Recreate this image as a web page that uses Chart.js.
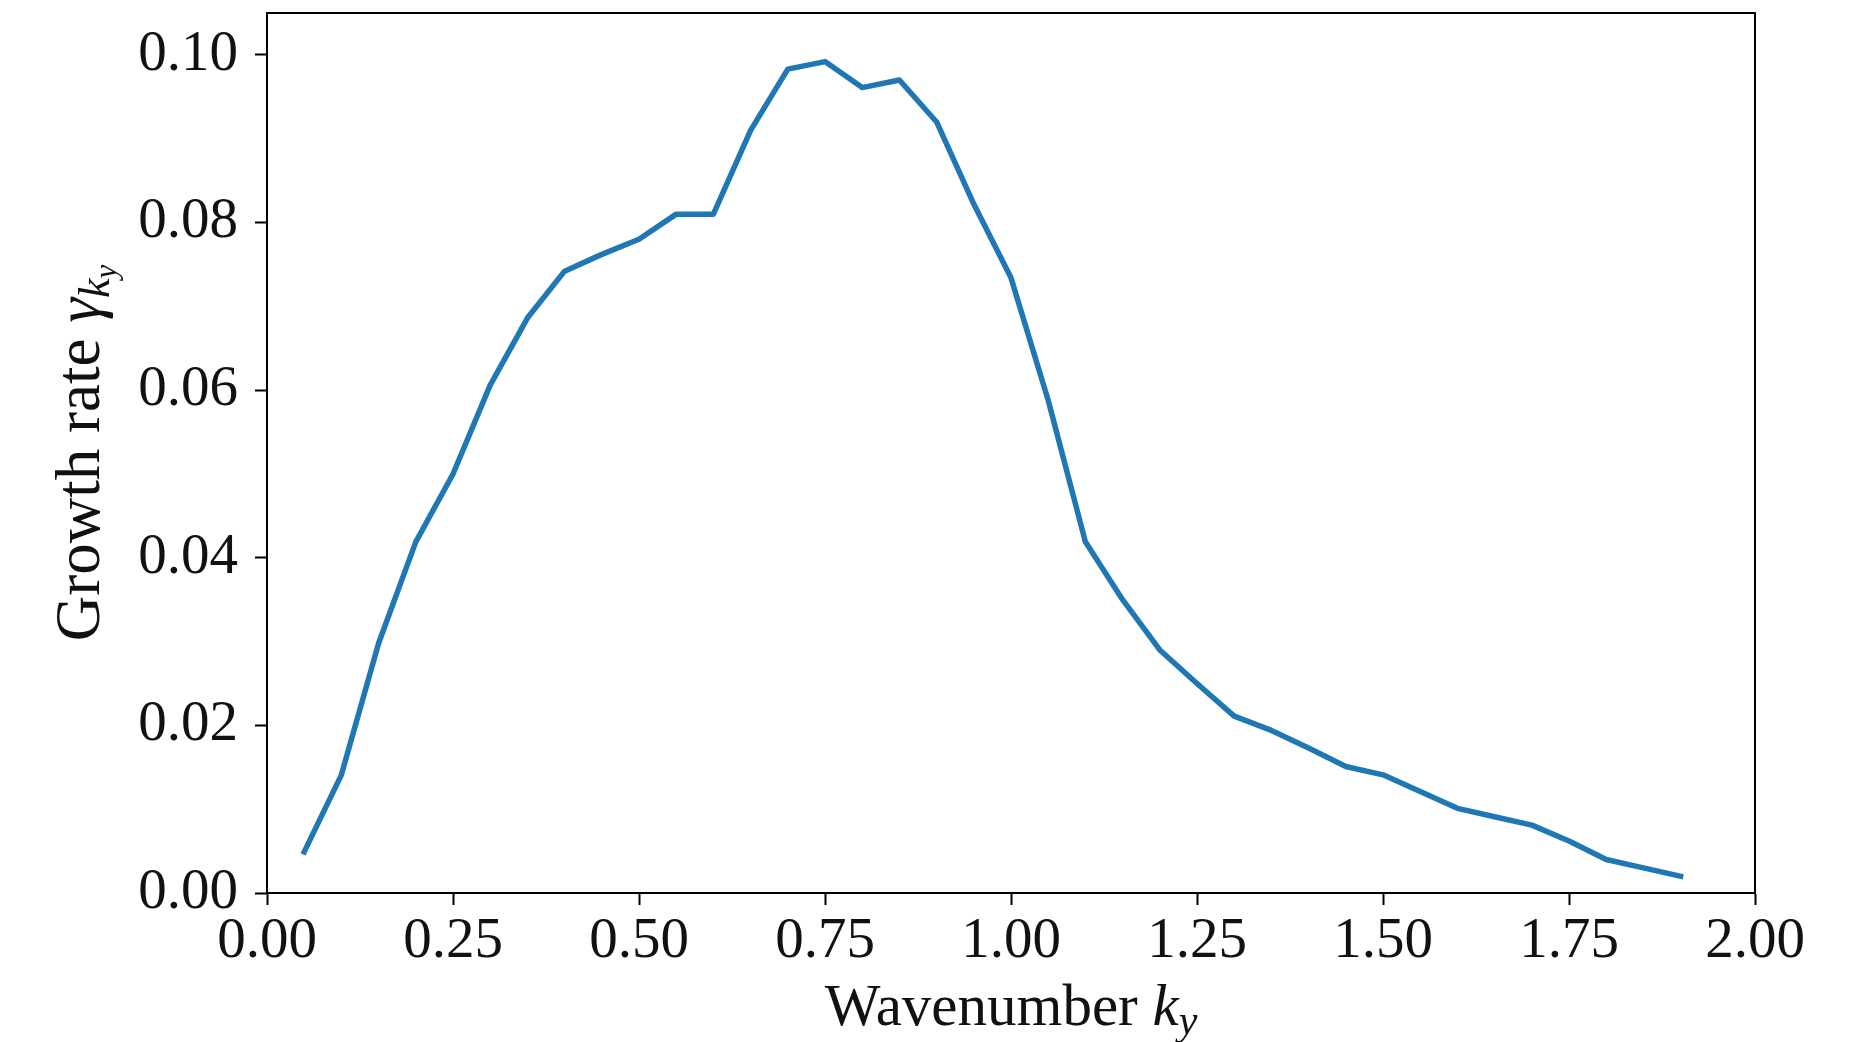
<!DOCTYPE html>
<html lang="en">
  <head>
    <title>Growth rate</title>
    <meta charset="utf-8" />
    <script src="https://cdn.jsdelivr.net/npm/chart.js"></script>
    <style>
      html, body { margin: 0; padding: 0; background: #fff; }
      #wrap { width: 1855px; height: 1042px; }
    </style>
  </head>
  <body>
    <div id="wrap"><canvas id="lienzo"></canvas></div>
    <script>
      // growth rate per wavenumber
      const kyValues = [
        0.05, 0.10, 0.15, 0.20, 0.25, 0.30, 0.35, 0.40, 0.45, 0.50,
        0.55, 0.60, 0.65, 0.70, 0.75, 0.80, 0.85, 0.90, 0.95, 1.00,
        1.05, 1.10, 1.15, 1.20, 1.25, 1.30, 1.35, 1.40, 1.45, 1.50,
        1.55, 1.60, 1.65, 1.70, 1.75, 1.80, 1.85, 1.90
      ];
      const growthRates = [
        0.0049, 0.0141, 0.0298, 0.0419, 0.0500, 0.0606, 0.0686, 0.0742, 0.0762, 0.0780,
        0.0810, 0.0810, 0.0910, 0.0983, 0.0992, 0.0961, 0.0970, 0.0920, 0.0822, 0.0734,
        0.0588, 0.0419, 0.0350, 0.0290, 0.0250, 0.0211, 0.0194, 0.0173, 0.0151, 0.0141,
        0.0121, 0.0101, 0.0091, 0.0081, 0.0062, 0.0040, 0.0030, 0.0020
      ];
      const xTicks = [0, 0.25, 0.5, 0.75, 1.0, 1.25, 1.5, 1.75, 2.0];
      const yTicks = [0, 0.02, 0.04, 0.06, 0.08, 0.10];

      const SERIF = "'Liberation Serif', 'Times New Roman', serif";

      // draws a run of [text, italic, size, dy] pieces starting at x
      function drawPieces(ctx, pieces, x, y) {
        pieces.forEach(([txt, italic, size, dy]) => {
          ctx.font = (italic ? "italic " : "") + size + "px " + SERIF;
          ctx.fillText(txt, x, y + dy);
          x += ctx.measureText(txt).width;
        });
      }
      function piecesWidth(ctx, pieces) {
        let w = 0;
        pieces.forEach(([txt, italic, size]) => {
          ctx.font = (italic ? "italic " : "") + size + "px " + SERIF;
          w += ctx.measureText(txt).width;
        });
        return w;
      }

      const marco = {
        id: "marco",
        afterDraw(chart) {
          const { ctx, chartArea: a } = chart;
          ctx.save();
          ctx.strokeStyle = "#000";
          ctx.lineWidth = 2;
          ctx.strokeRect(a.left, a.top, a.right - a.left, a.bottom - a.top);

          ctx.fillStyle = "#111";
          ctx.textBaseline = "alphabetic";

          const xTitle = [
            ["Wavenumber ", false, 59, 0],
            ["k", true, 59, 0],
            ["y", true, 42, 9],
          ];
          const wx = piecesWidth(ctx, xTitle);
          drawPieces(ctx, xTitle, (a.left + a.right) / 2 - wx / 2, 1025);

          const yTitle = [
            ["Growth rate ", false, 63, 0],
            ["\u03b3", true, 63, 0],
            ["k", true, 44, 10],
            ["y", true, 31, 17],
          ];
          const wy = piecesWidth(ctx, yTitle);
          ctx.translate(99, 453);
          ctx.rotate(-Math.PI / 2);
          drawPieces(ctx, yTitle, -wy / 2, 0);
          ctx.restore();
        },
      };

      const contexto = document.querySelector("#lienzo");
      new Chart(contexto, {
        type: "line",
        data: {
          datasets: [
            {
              data: kyValues.map((k, i) => ({ x: k, y: growthRates[i] })),
              borderColor: "#1f77b4",
              borderWidth: 5.5,
              borderJoinStyle: "round",
              borderCapStyle: "square",
              pointRadius: 0,
              tension: 0,
              fill: false,
            },
          ],
        },
        options: {
          responsive: true,
          maintainAspectRatio: false,
          animation: false,
          layout: { padding: { top: 13, right: 100, bottom: 0, left: 0 } },
          plugins: { legend: { display: false }, tooltip: { enabled: false } },
          scales: {
            x: {
              type: "linear",
              min: 0,
              max: 2,
              afterBuildTicks: (s) => { s.ticks = xTicks.map((v) => ({ value: v })); },
              afterFit: (s) => {
                s.height = 149;
                s.paddingLeft = 0;
                s.paddingRight = 0;
              },
              grid: {
                drawOnChartArea: false,
                drawTicks: true,
                tickLength: 12,
                tickWidth: 2,
                tickColor: "#000",
              },
              border: { display: true, color: "#000", width: 2 },
              ticks: {
                padding: 3,
                color: "#111",
                maxRotation: 0,
                autoSkip: false,
                font: { family: SERIF, size: 57 },
                callback: (v) => v.toFixed(2),
              },
            },
            y: {
              type: "linear",
              min: 0,
              max: 0.105,
              afterBuildTicks: (s) => { s.ticks = yTicks.map((v) => ({ value: v })); },
              afterFit: (s) => {
                s.width = 267;
                s.paddingTop = 0;
                s.paddingBottom = 0;
              },
              grid: {
                drawOnChartArea: false,
                drawTicks: true,
                tickLength: 12,
                tickWidth: 2,
                tickColor: "#000",
              },
              border: { display: true, color: "#000", width: 2 },
              ticks: {
                padding: 17,
                color: "#111",
                autoSkip: false,
                font: { family: SERIF, size: 57 },
                callback: (v) => v.toFixed(2),
              },
            },
          },
        },
        plugins: [marco],
      });
    </script>
  </body>
</html>
